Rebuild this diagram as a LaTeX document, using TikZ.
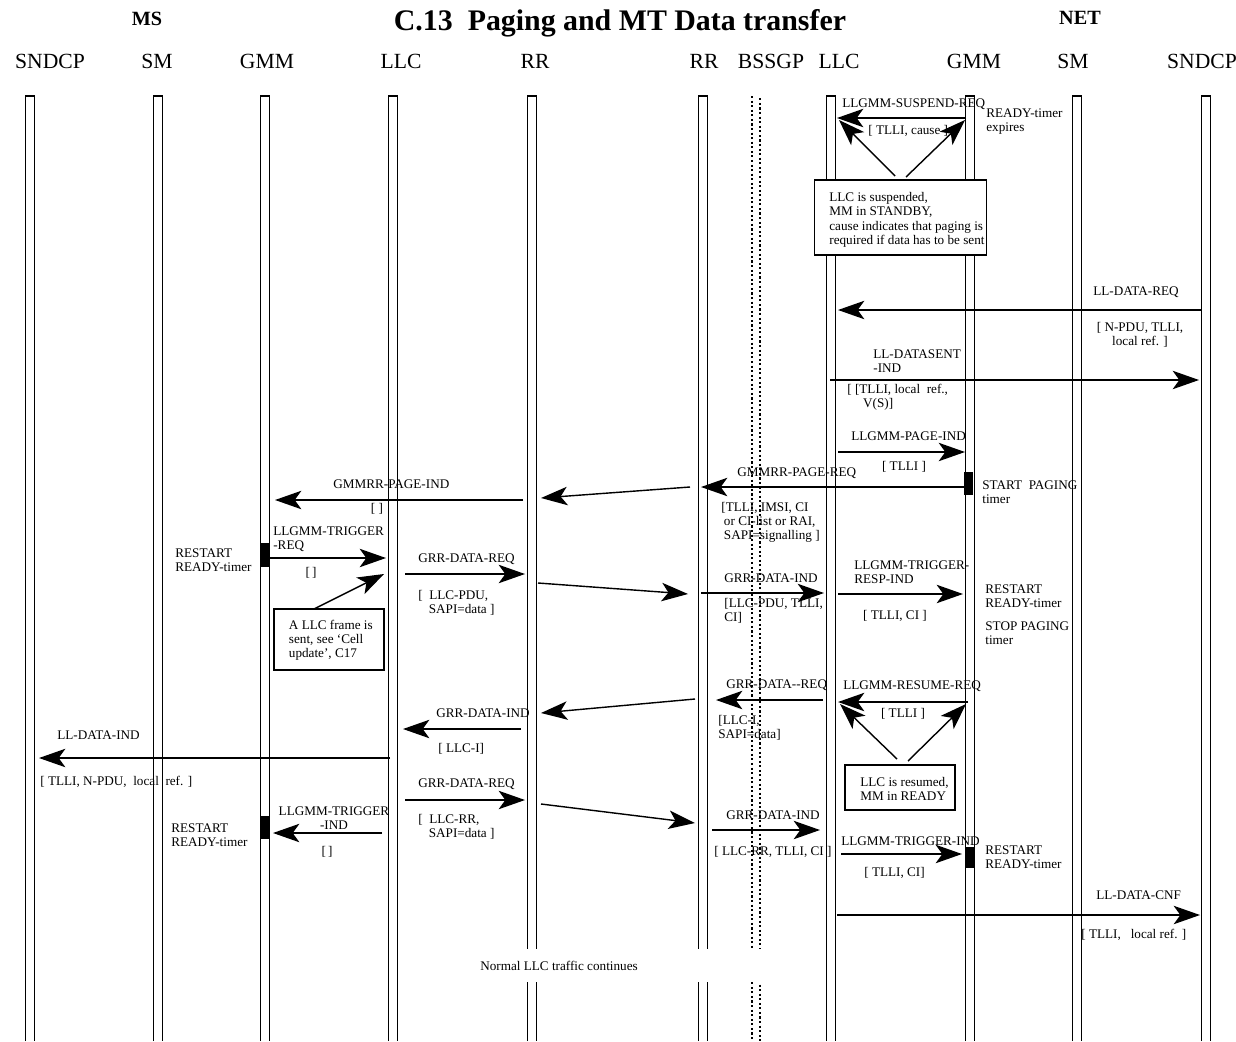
\documentclass[tikz,border=0pt]{standalone}
\usepackage{fontspec}
\setmainfont{Liberation Serif}
\usetikzlibrary{arrows.meta}

\tikzset{
  lifeline/.style={line width=1pt},
  msg/.style={line width=0.8pt, -{Stealth[length=15pt,width=10.5pt,inset=3.8pt]}},
  lbl/.style={inner sep=0pt, anchor=west, align=left, font=\fontsize{7.5}{8}\selectfont},
  clbl/.style={lbl, anchor=center, align=center},
  note/.style={draw, line width=0.8pt, fill=white, inner sep=0pt},
  hdr/.style={inner sep=0pt, font=\fontsize{12.3}{14}\selectfont}
}

\begin{document}
\begin{tikzpicture}[x=0.02cm,y=-0.02cm]
\useasboundingbox (0,0) rectangle (1236,1041);

% headings
\node[inner sep=0pt, font=\bfseries\fontsize{11.5}{13}\selectfont] (hd-ms) at (147,19) {MS};
\node[inner sep=0pt, font=\bfseries\fontsize{17}{20}\selectfont] (hd-title) at (620,23) {C.13~ Paging and MT Data transfer};
\node[inner sep=0pt, font=\bfseries\fontsize{11.5}{13}\selectfont] (hd-net) at (1080,18) {NET};
\foreach \x/\t in {50/SNDCP,157/SM,267/GMM,401/LLC,535/RR,704/RR,771/BSSGP,839/LLC,974/GMM,1073/SM,1202/SNDCP}
  \node[hdr] (hd-\x) at (\x,61) {\t};

% lifelines
\foreach \x/\n in {30/ms-sndcp,158/ms-sm,265/ms-gmm,393/ms-llc,532/ms-rr,703/net-rr,831/net-llc,970/net-gmm,1077/net-sm,1206/net-sndcp}{
  \coordinate (\n) at (\x,96);
  \draw[lifeline] (\x-4.5,1041) -- (\x-4.5,96) -- (\x+4.5,96) -- (\x+4.5,1041);
}
\draw[line width=1.2pt, dash pattern=on 1.2pt off 1.4pt] (752,96) -- (752,1041);
\draw[line width=1.2pt, dash pattern=on 1.2pt off 1.4pt, dash phase=1.3pt] (760,96) -- (760,1041);

% timer bars
\fill (964,472) rectangle (973,495);
\fill (261,543) rectangle (270,567);
\fill (261,816) rectangle (270,839);
\fill (965,847) rectangle (974,868);

% notes
\node[note, minimum width=98pt, minimum height=42.5pt] (susp-box) at (900.5,217.5) {};
\node[lbl, font=\fontsize{7.5}{8.2}\selectfont] (susp-txt) at (829,220) {LLC is suspended,\\MM in STANDBY,\\cause indicates that paging is\\required if data has to be sent};
\node[note, minimum width=62.8pt, minimum height=34.6pt] (frame-box) at (329,639.5) {};
\node[lbl] (frame-txt) at (288.6,640) {A LLC frame is\\sent, see `Cell\\update', C17};
\node[note, minimum width=62.4pt, minimum height=25.5pt] (res-box) at (900,787.5) {};
\node[lbl] (res-txt) at (860,788.5) {LLC is resumed,\\MM in READY};

% end points
\coordinate (susp-s) at (966,118);   \coordinate (susp-e) at (837,118);
\coordinate (susp-d1) at (895,176);  \coordinate (susp-t1) at (839,120);
\coordinate (susp-d2) at (906,177);  \coordinate (susp-t2) at (965,120);
\coordinate (llreq-s) at (1201,310); \coordinate (llreq-e) at (838,310);
\coordinate (sent-s) at (830,380);   \coordinate (sent-e) at (1199,380);
\coordinate (pind-s) at (838,452);   \coordinate (pind-e) at (965,452);
\coordinate (preq-s) at (964,487);   \coordinate (preq-e) at (701,487);
\coordinate (prr-s) at (690,487);    \coordinate (prr-e) at (541,498);
\coordinate (gpind-s) at (523,500);  \coordinate (gpind-e) at (275,500);
\coordinate (trq-s) at (270,558);    \coordinate (trq-e) at (386,558);
\coordinate (frame-d) at (314,609);  \coordinate (frame-t) at (384,574);
\coordinate (grq1-s) at (405,574);   \coordinate (grq1-e) at (525,574);
\coordinate (rr1-s) at (538,583);    \coordinate (rr1-e) at (688,594);
\coordinate (gin1-s) at (701,593);   \coordinate (gin1-e) at (824,593);
\coordinate (resp-s) at (838,594);   \coordinate (resp-e) at (963,594);
\coordinate (grq2-s) at (823,700);   \coordinate (grq2-e) at (716,700);
\coordinate (rr2-s) at (695,699);    \coordinate (rr2-e) at (541,713);
\coordinate (resm-s) at (968,702);   \coordinate (resm-e) at (838,702);
\coordinate (res-d1) at (897,759);   \coordinate (res-t1) at (840,704);
\coordinate (res-d2) at (908,761);   \coordinate (res-t2) at (966,704);
\coordinate (gin2-s) at (521,729);   \coordinate (gin2-e) at (403,729);
\coordinate (lind-s) at (390,758);   \coordinate (lind-e) at (39,758);
\coordinate (grq3-s) at (405,800);   \coordinate (grq3-e) at (525,800);
\coordinate (rr3-s) at (541,804);    \coordinate (rr3-e) at (695,823);
\coordinate (tin1-s) at (382,833);   \coordinate (tin1-e) at (273,833);
\coordinate (gin3-s) at (712,830);   \coordinate (gin3-e) at (820,830);
\coordinate (tin2-s) at (841,854);   \coordinate (tin2-e) at (962,854);
\coordinate (cnf-s) at (837,915);    \coordinate (cnf-e) at (1200,915);

% messages
\foreach \m in {susp,llreq,sent,pind,preq,prr,gpind,trq,grq1,rr1,gin1,resp,grq2,rr2,resm,gin2,lind,grq3,rr3,tin1,gin3,tin2,cnf}
  \draw[msg] (\m-s) -- (\m-e);
\draw[msg] (susp-d1) -- (susp-t1);
\draw[msg] (susp-d2) -- (susp-t2);
\draw[msg] (frame-d) -- (frame-t);
\draw[msg] (res-d1) -- (res-t1);
\draw[msg] (res-d2) -- (res-t2);

% labels
\node[lbl] (l-susp) at (842,104) {LLGMM-SUSPEND-REQ};
\node[lbl] (p-susp) at (868,131) {[ TLLI, cause ]};
\node[lbl] (t-exp) at (986,121.5) {READY-timer\\expires};
\node[lbl] (l-llreq) at (1093,292) {LL-DATA-REQ};
\node[clbl] (p-llreq) at (1140,335) {[ N-PDU, TLLI,\\local ref. ]};
\node[lbl] (l-sent) at (873,361.5) {LL-DATASENT\\-IND};
\node[lbl] (p-sent) at (847,397) {[ [TLLI, local~ ref.,\\\hspace*{9pt}V(S)]};
\node[lbl] (l-pind) at (851,436) {LLGMM-PAGE-IND};
\node[clbl] (p-pind) at (904,467) {[ TLLI ]};
\node[lbl] (l-preq) at (737,473) {GMMRR-PAGE-REQ};
\node[lbl] (p-preq) at (721,522.5) {[TLLI, IMSI, CI\\\hspace*{1.5pt}or CI-list or RAI,\\\hspace*{1.5pt}SAPI=signalling ]};
\node[lbl] (t-start) at (982,492.5) {START~ PAGING\\timer};
\node[lbl] (l-gpind) at (333,484) {GMMRR-PAGE-IND};
\node[clbl] (p-gpind) at (377,509) {[\ ]};
\node[lbl] (l-trq) at (273,539) {LLGMM-TRIGGER\\-REQ};
\node[clbl] (p-trq) at (311,573) {[\,]};
\node[lbl] (t-rst1) at (175,560) {RESTART\\READY-timer};
\node[lbl] (l-grq1) at (418,559) {GRR-DATA-REQ};
\node[lbl] (p-grq1) at (418,602.5) {[~ LLC-PDU,\\\hspace*{6pt}SAPI=data ]};
\node[lbl] (l-gin1) at (724,578) {GRR-DATA-IND};
\node[lbl] (p-gin1) at (724,611) {[LLC-PDU, TLLI,\\CI]};
\node[lbl] (l-resp) at (854,572.5) {LLGMM-TRIGGER-\\RESP-IND};
\node[clbl] (p-resp) at (895,616) {[ TLLI, CI ]};
\node[lbl] (t-rst2) at (985,596.5) {RESTART\\READY-timer};
\node[lbl] (t-stop) at (985,633) {STOP PAGING\\timer};
\node[lbl] (l-grq2) at (726,685) {GRR-DATA-{}-REQ};
\node[lbl] (p-grq2) at (718,728) {[LLC-I,\\SAPI=data]};
\node[lbl] (l-resm) at (843,686) {LLGMM-RESUME-REQ};
\node[clbl] (p-resm) at (903,714) {[ TLLI ]};
\node[lbl] (l-gin2) at (436,713) {GRR-DATA-IND};
\node[lbl] (p-gin2) at (438,749) {[ LLC-I]};
\node[lbl] (l-lind) at (57,735) {LL-DATA-IND};
\node[lbl] (p-lind) at (40,782) {[ TLLI, N-PDU,~ local~ ref. ]};
\node[lbl] (l-grq3) at (418,784) {GRR-DATA-REQ};
\node[lbl] (p-grq3) at (418,827) {[~ LLC-RR,\\\hspace*{6pt}SAPI=data ]};
\node[clbl] (l-tin1) at (334,818) {LLGMM-TRIGGER\\-IND};
\node[clbl] (p-tin1) at (327,852) {[\,]};
\node[lbl] (t-rst3) at (171,835.5) {RESTART\\READY-timer};
\node[lbl] (l-gin3) at (726,815) {GRR-DATA-IND};
\node[lbl] (p-gin3) at (714,852) {[ LLC-RR, TLLI, CI ]};
\node[lbl] (l-tin2) at (841,841) {LLGMM-TRIGGER-IND};
\node[lbl] (t-rst4) at (985,857) {RESTART\\READY-timer};
\node[lbl] (p-tin2) at (864,873) {[ TLLI, CI]};
\node[lbl] (l-cnf) at (1096,895) {LL-DATA-CNF};
\node[lbl] (p-cnf) at (1081,935) {[ TLLI,~~ local ref. ]};

% break in the lifelines
\fill[white] (520,949) rectangle (770,982);
\node[clbl] (cont) at (559,966) {Normal LLC traffic continues};
\end{tikzpicture}
\end{document}
